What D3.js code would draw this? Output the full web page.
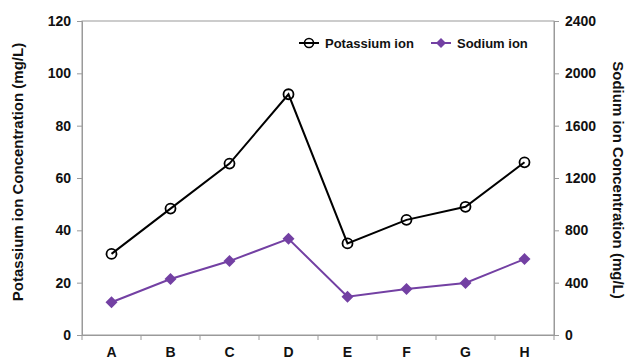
<!DOCTYPE html>
<html><head><meta charset="utf-8">
<script src="https://cdn.jsdelivr.net/npm/d3@7"></script>
<style>body{margin:0;background:#fff}svg{display:block}text{font-family:"Liberation Sans",Arial,sans-serif;font-weight:bold;fill:#111}</style>
</head><body><svg id="c" width="628" height="359"></svg>
<script>
const categories = ["A","B","C","D","E","F","G","H"];
const potassium = [31, 48.3, 65.5, 92, 35, 44, 49, 66];
const sodium = [250, 428, 565, 735, 292, 352, 398, 580];
const leftTicks = [0,20,40,60,80,100,120];
const rightTicks = [0,400,800,1200,1600,2000,2400];

const svg = d3.select("#c");
const m = {l:82, r:554, t:21, b:335};
const x = d3.scaleBand().domain(categories).range([m.l, m.r]);
const yL = d3.scaleLinear().domain([0,120]).range([m.b, m.t]);
const yR = d3.scaleLinear().domain([0,2400]).range([m.b, m.t]);
const grey = "#9a9a9a";

svg.append("rect").attr("x",m.l).attr("y",m.t).attr("width",m.r-m.l).attr("height",m.b-m.t)
  .attr("fill","none").attr("stroke",grey).attr("stroke-width",1);

const gL = svg.append("g").attr("transform",`translate(${m.l},0)`)
  .call(d3.axisLeft(yL).tickValues(leftTicks).tickFormat(d3.format("d")).tickSize(5).tickPadding(6));
const gR = svg.append("g").attr("transform",`translate(${m.r},0)`)
  .call(d3.axisRight(yR).tickValues(rightTicks).tickFormat(d3.format("d")).tickSize(5).tickPadding(6));
const gX = svg.append("g").attr("transform",`translate(0,${m.b})`)
  .call(d3.axisBottom(x).tickSize(0).tickPadding(12));
const bounds = categories.map(c=>x(c)).concat([m.r]);
svg.append("g").selectAll("line").data(bounds).join("line")
  .attr("x1",d=>d).attr("x2",d=>d).attr("y1",m.b).attr("y2",m.b+5).attr("stroke",grey);
[gL,gR,gX].forEach(g=>{
  g.selectAll("path,line").attr("stroke",grey);
  g.selectAll("text").attr("font-size",14).attr("font-weight","bold").attr("fill","#111");
});

const cx = d => x(d)+x.bandwidth()/2;
const purple = "#7340a3";
const diamond = s => `M0,${-s}L${s},0L0,${s}L${-s},0Z`;

const lineK = d3.line().x((d,i)=>cx(categories[i])).y(d=>yL(d));
svg.append("path").attr("d",lineK(potassium)).attr("fill","none").attr("stroke","#000").attr("stroke-width",2);
svg.append("g").selectAll("circle").data(potassium).join("circle")
  .attr("cx",(d,i)=>cx(categories[i])).attr("cy",d=>yL(d)).attr("r",5)
  .attr("fill","none").attr("stroke","#000").attr("stroke-width",1.8);

const lineNa = d3.line().x((d,i)=>cx(categories[i])).y(d=>yR(d));
svg.append("path").attr("d",lineNa(sodium)).attr("fill","none").attr("stroke",purple).attr("stroke-width",2);
svg.append("g").selectAll("path").data(sodium).join("path")
  .attr("d",diamond(6)).attr("transform",(d,i)=>`translate(${cx(categories[i])},${yR(d)})`)
  .attr("fill",purple);

const lg = svg.append("g");
lg.append("line").attr("x1",299).attr("x2",319).attr("y1",43).attr("y2",43).attr("stroke","#000").attr("stroke-width",2);
lg.append("circle").attr("cx",309).attr("cy",43).attr("r",4.5).attr("fill","none").attr("stroke","#000").attr("stroke-width",1.6);
lg.append("text").attr("x",325).attr("y",47.5).attr("font-size",13).text("Potassium ion");
lg.append("line").attr("x1",431).attr("x2",451).attr("y1",43).attr("y2",43).attr("stroke",purple).attr("stroke-width",2);
lg.append("path").attr("d",diamond(5)).attr("transform","translate(441,43)").attr("fill",purple);
lg.append("text").attr("x",457).attr("y",47.5).attr("font-size",13).text("Sodium ion");

svg.append("text").attr("transform",`translate(23,172) rotate(-90)`).attr("text-anchor","middle")
  .attr("font-size",15).text("Potassium ion Concentration (mg/L)");
svg.append("text").attr("transform",`translate(613,180) rotate(90)`).attr("text-anchor","middle")
  .attr("font-size",15).text("Sodium ion Concentration (mg/L)");
</script></body></html>
